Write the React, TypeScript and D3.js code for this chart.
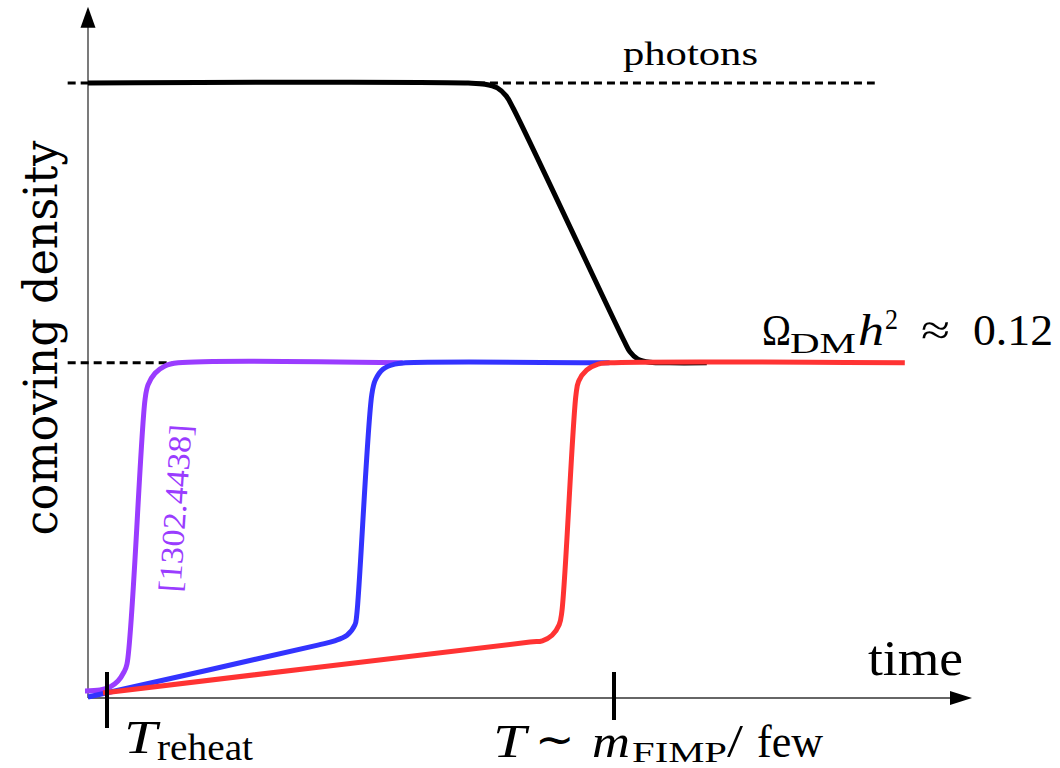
import React, { useEffect, useRef } from 'react';
import * as d3 from 'd3';

// time runs 0..100 (0 = y axis, 100 = arrow tip); density 0..100 (100 = photon plateau)
const photonLevel = 100;
const dmLevel = 54.5;
const yArrowTop = 112.4;

const photonCurve: [number, number][] = [
  [0, 100], [43.0, 100], [44.9, 99.8], [46.3, 99.2], [47.3, 97.9], [48.1, 95.9],
  [60.7, 57.9], [61.3, 56.3], [62.2, 55.1], [63.6, 54.6], [65.8, 54.5], [70, 54.5],
];

const purpleCurve: [number, number][] = [
  [-0.34, 1.14], [1.36, 1.3], [2.49, 1.79], [3.39, 2.76], [4.07, 4.23], [4.41, 5.53],
  [6.45, 48.5], [6.79, 50.9], [7.58, 52.8], [8.71, 54.0], [10.2, 54.5], [35.6, 54.5],
];

const blueCurve: [number, number][] = [
  [0, 0.16], [26.0, 8.6], [27.9, 9.3], [29.3, 10.2], [30.2, 11.9], [30.4, 13.5],
  [32.1, 49.3], [32.5, 51.7], [33.4, 53.5], [34.7, 54.3], [35.9, 54.5], [59.0, 54.5],
];

const redCurve: [number, number][] = [
  [1.7, 0.81], [50.0, 9.1], [51.4, 9.3], [52.5, 10.2], [53.3, 11.9], [53.6, 14.0],
  [55.2, 49.3], [55.5, 51.5], [56.4, 53.3], [57.7, 54.3], [59.0, 54.5], [92.4, 54.5],
];

// dashed guide lines: [start, end] in time units
const photonDashLeft = [-2.3, 0];
const photonDashRight = [44.0, 89.0];
const dmDash = [-2.3, 10.4];

const reheatTick = 2.15;
const fimpTick = 59.5;

const serif = 'Liberation Serif, serif';

export default function App() {
  const ref = useRef<SVGSVGElement | null>(null);

  useEffect(() => {
    document.body.style.margin = '0';
    const svg = d3.select(ref.current);
    svg.selectAll('*').remove();

    const x = d3.scaleLinear().domain([0, 100]).range([88, 972]);
    const y = d3.scaleLinear().domain([0, 100]).range([698, 83]);

    const axisColor = '#333';

    // axes
    svg.append('line')
      .attr('x1', x(0)).attr('x2', x(0))
      .attr('y1', y(0)).attr('y2', y(yArrowTop) + 18)
      .style('stroke', axisColor).style('stroke-width', 1.3);
    svg.append('path')
      .attr('d', `M${x(0)},${y(yArrowTop)} L${x(0) - 7.5},${y(yArrowTop) + 21} L${x(0) + 7.5},${y(yArrowTop) + 21} Z`)
      .style('fill', '#000');

    svg.append('line')
      .attr('x1', x(0)).attr('x2', x(100) - 18)
      .attr('y1', y(0)).attr('y2', y(0))
      .style('stroke', axisColor).style('stroke-width', 1.3);
    svg.append('path')
      .attr('d', `M${x(100)},${y(0)} L${x(100) - 22},${y(0) - 7} L${x(100) - 22},${y(0) + 7} Z`)
      .style('fill', '#000');

    // dashed guides
    const dashes: [number[], number][] = [
      [photonDashLeft, photonLevel],
      [photonDashRight, photonLevel],
      [dmDash, dmLevel],
    ];
    dashes.forEach(([span, level]) => {
      svg.append('line')
        .attr('x1', x(span[0])).attr('x2', x(span[1]))
        .attr('y1', y(level)).attr('y2', y(level))
        .style('stroke', '#000')
        .style('stroke-width', 3)
        .style('stroke-dasharray', '8,5');
    });

    const line = d3.line<[number, number]>()
      .x((d) => x(d[0]))
      .y((d) => y(d[1]))
      .curve(d3.curveCatmullRom.alpha(0.5));

    const curves: [[number, number][], string][] = [
      [photonCurve, '#000'],
      [purpleCurve, '#9a3cff'],
      [blueCurve, '#3333ff'],
      [redCurve, '#ff3333'],
    ];
    curves.forEach(([data, color]) => {
      svg.append('path')
        .datum(data)
        .attr('d', line)
        .style('fill', 'none')
        .style('stroke', color)
        .style('stroke-width', 5)
        .style('stroke-linejoin', 'round');
    });

    // ticks on time axis
    svg.append('line')
      .attr('x1', x(reheatTick)).attr('x2', x(reheatTick))
      .attr('y1', y(0) - 26).attr('y2', y(0) + 30)
      .style('stroke', '#000').style('stroke-width', 4);
    svg.append('line')
      .attr('x1', x(fimpTick)).attr('x2', x(fimpTick))
      .attr('y1', y(0) - 26).attr('y2', y(0) + 22)
      .style('stroke', '#000').style('stroke-width', 4);

    const txt = (s: string, tx: number, ty: number, size: number, opts: any = {}) => {
      const t = svg.append('text')
        .attr('x', tx).attr('y', ty)
        .attr('font-family', opts.family || serif)
        .attr('font-size', size)
        .attr('fill', opts.color || '#000')
        .text(s);
      if (opts.italic) t.attr('font-style', 'italic');
      if (opts.len) t.attr('textLength', opts.len).attr('lengthAdjust', 'spacingAndGlyphs');
      if (opts.anchor) t.attr('text-anchor', opts.anchor);
      if (opts.transform) t.attr('transform', opts.transform);
      return t;
    };

    // axis titles
    txt('comoving density', 0, 0, 46, {
      len: 395, anchor: 'middle', transform: 'translate(57,338) rotate(-90)', family: 'DejaVu Serif',
    });
    txt('time', 868, 675, 50, { len: 95 });

    // curve labels
    txt('photons', 623, 65, 34, { len: 135 });
    txt('Ω', 762, 345, 44, { len: 29 });
    txt('DM', 790, 353, 30, { len: 66 });
    txt('h', 858, 345, 44, { italic: true, len: 26 });
    txt('2', 885, 329, 30, { len: 13 });
    txt('≈', 921, 345, 44, { len: 29 });
    txt('0.12', 973, 345, 44, { len: 80 });

    txt('[1302.4438]', 0, 0, 32, {
      color: '#9a3cff', len: 168, anchor: 'middle',
      transform: 'translate(186,509) rotate(-86)',
    });

    // tick labels
    txt('T', 124, 753, 46, { italic: true, len: 33 });
    txt('reheat', 157, 760, 38, { len: 96 });

    txt('T', 493, 757, 46, { italic: true, len: 33 });
    txt('∼', 535, 755, 46, { len: 40 });
    txt('m', 592, 757, 46, { italic: true, len: 38 });
    txt('FIMP', 632, 762, 29, { len: 95 });
    txt('/', 727, 757, 46, { len: 16 });
    txt('few', 757, 757, 46, { len: 66 });
  }, []);

  return <svg ref={ref} width={1060} height={768} style={{ display: 'block', background: '#fff' }} />;
}
